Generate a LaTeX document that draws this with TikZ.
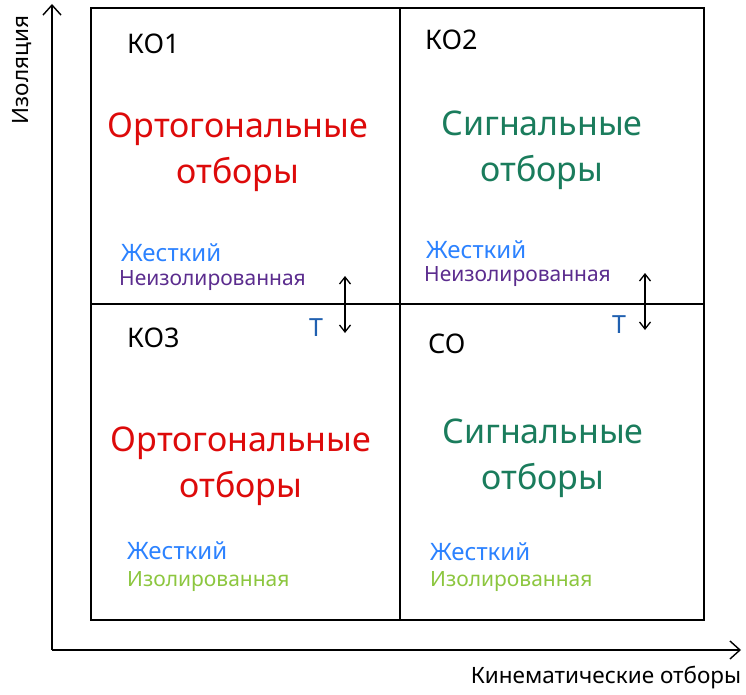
\documentclass[tikz,border=0pt]{standalone}
\usepackage{fontspec}
\setmainfont{Noto Sans}
\usetikzlibrary{arrows.meta}
\definecolor{cred}{HTML}{DD0A0A}
\definecolor{cgreen}{HTML}{1A7C5C}
\definecolor{cblue}{HTML}{2C82FF}
\definecolor{cpurple}{HTML}{5B2C8E}
\definecolor{clime}{HTML}{8CC63F}
\definecolor{ctblue}{HTML}{2060B0}
\tikzset{
  big/.style={font=\fontsize{34}{46}\selectfont, align=center, inner sep=0pt},
  qlabel/.style={font=\fontsize{27}{30}\selectfont, anchor=west, inner sep=0pt},
  hard/.style={font=\fontsize{24}{26}\selectfont, anchor=west, inner sep=0pt, text=cblue},
  iso/.style={font=\fontsize{21}{24}\selectfont, anchor=west, inner sep=0pt},
  tlabel/.style={font=\fontsize{25}{27}\selectfont, inner sep=0pt, text=ctblue},
  axislabel/.style={font=\fontsize{22.5}{25}\selectfont, inner sep=0pt},
  axisline/.style={line width=1.6pt, -{Straight Barb[length=10pt,width=18pt,line width=1.4pt]}},
  dblarrow/.style={line width=1.3pt, {Straight Barb[length=7pt,width=11pt]}-{Straight Barb[length=7pt,width=11pt]}},
}
\begin{document}
\begin{tikzpicture}[x=1pt,y=-1pt]
\useasboundingbox (0,0) rectangle (746,695);
% grid
\coordinate (TL) at (91,8);
\coordinate (BR) at (704,620);
\coordinate (Vt) at (400,8);
\coordinate (Vb) at (400,620);
\coordinate (Hl) at (91,304);
\coordinate (Hr) at (704,304);
\draw[line width=2.8pt] (TL) rectangle (BR);
\draw[line width=2pt] (Vt) -- (Vb);
\draw[line width=2pt] (Hl) -- (Hr);
% axes
\coordinate (O) at (52,650);
\coordinate (Ytop) at (52,4);
\coordinate (Xend) at (741,650);
\draw[axisline] (O) -- (Ytop);
\draw[axisline] (O) -- (Xend);
\node[axislabel, rotate=90] (ylab) at (22,70) {Изоляция};
\node[axislabel] (xlab) at (606,678) {Кинематические отборы};
% quadrant labels
\node[qlabel] (q1) at (127,44) {КО1};
\node[qlabel] (q2) at (425,40) {КО2};
\node[qlabel] (q3) at (127,338) {КО3};
\node[qlabel] (q4) at (428,344) {СО};
% big texts
\node[big, text=cred] (b1) at (238,152) {Ортогональные\\отборы};
\node[big, text=cgreen] (b2) at (542,150) {Сигнальные\\отборы};
\node[big, text=cred] (b3) at (241,466) {Ортогональные\\отборы};
\node[big, text=cgreen] (b4) at (543,458) {Сигнальные\\отборы};
% small texts
\node[hard] (h1) at (121,253) {Жесткий};
\node[iso, text=cpurple] (i1) at (119,281) {Неизолированная};
\node[hard] (h2) at (426,250) {Жесткий};
\node[iso, text=cpurple] (i2) at (424,277) {Неизолированная};
\node[hard] (h3) at (127,551) {Жесткий};
\node[iso, text=clime] (i3) at (127,582) {Изолированная};
\node[hard] (h4) at (430,552) {Жесткий};
\node[iso, text=clime] (i4) at (430,582) {Изолированная};
% T labels and arrows
\node[tlabel] (t1) at (316,328) {Т};
\node[tlabel] (t2) at (619,325) {Т};
\coordinate (a1t) at (345,276);
\coordinate (a1b) at (345,333);
\coordinate (a2t) at (645,273);
\coordinate (a2b) at (645,330);
\draw[dblarrow] (a1t) -- (a1b);
\draw[dblarrow] (a2t) -- (a2b);
\end{tikzpicture}
\end{document}
